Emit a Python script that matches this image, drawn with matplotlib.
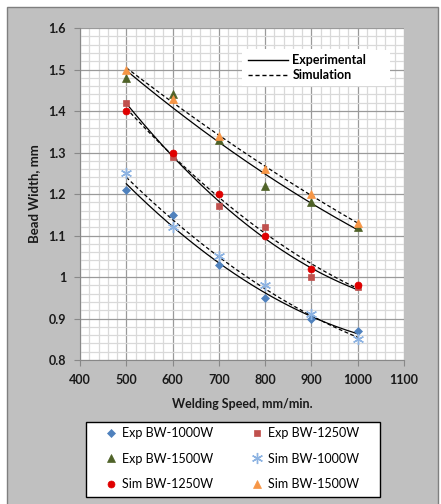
import numpy as np
import matplotlib
matplotlib.use("Agg")
import matplotlib.pyplot as plt
from matplotlib.patches import Rectangle
from matplotlib.lines import Line2D

speed = [500, 600, 700, 800, 900, 1000]
exp_1000 = [1.21, 1.15, 1.03, 0.95, 0.90, 0.87]
exp_1250 = [1.42, 1.29, 1.17, 1.12, 1.00, 0.975]
exp_1500 = [1.48, 1.44, 1.33, 1.22, 1.18, 1.12]
sim_1000 = [1.25, 1.12, 1.05, 0.98, 0.91, 0.85]
sim_1250 = [1.40, 1.30, 1.20, 1.10, 1.02, 0.98]
sim_1500 = [1.50, 1.43, 1.34, 1.26, 1.20, 1.13]

labels = ["Exp BW-1000W", "Exp BW-1250W", "Exp BW-1500W",
          "Sim BW-1000W", "Sim BW-1250W", "Sim BW-1500W"]
x_ticks = [400, 500, 600, 700, 800, 900, 1000, 1100]
y_ticks = [0.8, 0.9, 1.0, 1.1, 1.2, 1.3, 1.4, 1.5, 1.6]
y_tick_labels = ["0.8", "0.9", "1", "1.1", "1.2", "1.3", "1.4", "1.5", "1.6"]

plt.rcParams['font.family'] = ['Lato', 'DejaVu Sans']

W, H = 441, 504
fig = plt.figure(figsize=(W/100, H/100), dpi=100)
fig.patch.set_facecolor('white')
# outer chart frame
fig.add_artist(Rectangle((7/W, -0.01), 431/W, 1 - 7/H + 0.01,
                         transform=fig.transFigure, facecolor='#c0c0c0',
                         edgecolor='#7f7f7f', linewidth=1.0, zorder=-5))
# bottom legend frame
fig.add_artist(Rectangle((86/W, 1 - 497/H), 294/W, 75/H,
                         transform=fig.transFigure, facecolor='white',
                         edgecolor='black', linewidth=1.0, zorder=-4))

ax = fig.add_axes([80/W, 1 - 360/H, 324/W, 332/H])
ax.set_facecolor('white')

styles = [
    dict(marker='D', color='#4f81bd', ms=4.5),
    dict(marker='s', color='#c0504d', ms=5),
    dict(marker='^', color='#4f6228', ms=6),
    dict(marker=(6, 2, 0), color='#8db3e2', ms=8, mew=1.0),
    dict(marker='o', color='#e00000', ms=5),
    dict(marker='^', color='#f79646', ms=6),
]
series = [exp_1000, exp_1250, exp_1500, sim_1000, sim_1250, sim_1500]

xs = np.linspace(speed[0], speed[-1], 200)
for i, ys in enumerate(series):
    coef = np.polyfit(speed, ys, 2)
    ls = '-' if i < 3 else (0, (3, 2))
    ax.plot(xs, np.polyval(coef, xs), color='black', lw=0.9, ls=ls, zorder=3)

handles = []
for i, (ys, st) in enumerate(zip(series, styles)):
    h, = ax.plot(speed, ys, linestyle='none', marker=st['marker'], color=st['color'],
                 markersize=st['ms'], markeredgewidth=st.get('mew', 0.5),
                 markeredgecolor=st['color'], label=labels[i], zorder=4)
    handles.append(h)

ax.set_xlim(400, 1100)
ax.set_ylim(0.8, 1.6)
ax.set_xticks(x_ticks)
ax.set_yticks(y_ticks)
ax.set_yticklabels(y_tick_labels)
ax.set_xticks(np.arange(400, 1101, 20), minor=True)
ax.set_yticks(np.arange(0.8, 1.6001, 0.02), minor=True)
ax.grid(which='minor', color='#d9d9d9', lw=0.9, zorder=1)
ax.grid(which='major', color='#9a9a9a', lw=0.9, zorder=2)
ax.set_axisbelow(True)
ax.tick_params(which='minor', length=0)
ax.tick_params(which='major', length=4, direction='out', color='#888888', width=0.8,
               labelsize=9, labelcolor='#1a1a1a', pad=6)
for lab in ax.get_xticklabels() + ax.get_yticklabels():
    lab.set_fontweight('bold')
for s in ['top', 'right']:
    ax.spines[s].set_visible(False)
for s in ['left', 'bottom']:
    ax.spines[s].set_color('#888888')
    ax.spines[s].set_linewidth(0.8)

ax.set_ylabel('Bead Width, mm', fontsize=9.5, fontweight='bold', color='#1a1a1a', labelpad=6)
ax.set_xlabel('Welding Speed, mm/min.', fontsize=9, fontweight='bold', color='#1a1a1a', labelpad=9)

# white background box of the inner legend
ax.add_patch(Rectangle((242/W, 1 - 86/H), 148/W, 36/H, transform=fig.transFigure,
                       facecolor='white', edgecolor='none', zorder=5))

# inner legend for line styles
lh = [Line2D([], [], color='black', lw=1.0, ls='-'),
      Line2D([], [], color='black', lw=1.0, ls=(0, (3, 2)))]
leg1 = ax.legend(lh, ['Experimental', 'Simulation'], loc='upper left',
                 bbox_to_anchor=(243/W, 1 - 49/H), bbox_transform=fig.transFigure,
                 frameon=True, fancybox=False, framealpha=1, edgecolor='white',
                 prop={'weight': 'bold', 'size': 9}, handlelength=3.2,
                 labelspacing=0.25, borderpad=0.4, handletextpad=0.35,
                 borderaxespad=0)
leg1.get_frame().set_linewidth(0)
leg1.set_zorder(10)

# bottom legend
order = [0, 2, 4, 1, 3, 5]
leg2 = fig.legend([handles[i] for i in order], [labels[i] for i in order],
                  loc='upper left', ncol=2,
                  bbox_to_anchor=(105/W, 1 - 427/H),
                  bbox_transform=fig.transFigure,
                  frameon=False, prop={'size': 9}, labelspacing=1.1,
                  handlelength=1.0, handletextpad=0.35, borderpad=0,
                  columnspacing=3.0, borderaxespad=0)

fig.savefig('out.png', dpi=100, facecolor=fig.get_facecolor())
